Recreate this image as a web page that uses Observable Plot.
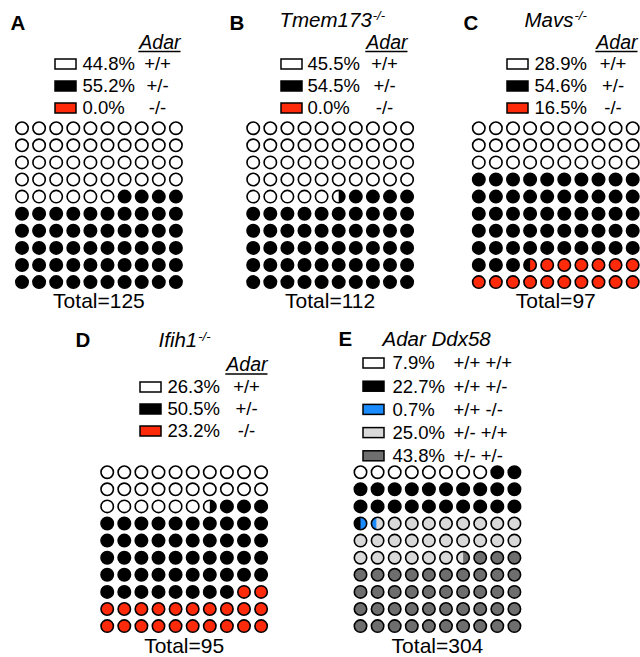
<!DOCTYPE html>
<html><head><meta charset="utf-8">
<script src="https://cdn.jsdelivr.net/npm/d3@7"></script>
<script src="https://cdn.jsdelivr.net/npm/@observablehq/plot@0.6"></script>
<style>body{margin:0;background:#fff} #chart{width:640px;height:657px}</style>
</head><body><div id="chart"></div>
<script>
// ---------------- data ----------------
const panelLetters = ["A", "B", "C", "D", "E"];
const panelGenes = ["", "Tmem173", "Mavs", "Ifih1", "Adar Ddx58"];
const geneSup = ["", "-/-", "-/-", "-/-", ""];
const legendGene = ["Adar", "Adar", "Adar", "Adar", ""];
const totals = [125, 112, 97, 95, 304];

const adarCategories = ["+/+", "+/-", "-/-"];
const adarColors = ["#ffffff", "#000000", "#ff2a0a"];
const pctA = [44.8, 55.2, 0.0];
const pctB = [45.5, 54.5, 0.0];
const pctC = [28.9, 54.6, 16.5];
const pctD = [26.3, 50.5, 23.2];

const ddxCategories = ["+/+ +/+", "+/+ +/-", "+/+ -/-", "+/- +/+", "+/- +/-"];
const ddxColors = ["#ffffff", "#000000", "#1a8cff", "#d9d9d9", "#6e6e6e"];
const pctE = [7.9, 22.7, 0.7, 25.0, 43.8];

// dots (out of 100) filled per category, as drawn in each waffle
const dotsA = [46, 54, 0];
const dotsB = [45.5, 54.5, 0];
const dotsC = [30, 53.5, 16.5];
const dotsD = [26.5, 51.5, 22];
const dotsE = [8, 22.5, 0.9, 25.1, 43.5];

// ---------------- layout (page pixels) ----------------
const layout = [
  {letterX: 10, letterY: 23, geneX: 0, geneY: 19.5, adarRight: 180, adarY: 42, legY: 64, legStep: 22, swX: 55, pctX: 82, genoX: 157, genoAnchor: "middle", gx: 21.5, gy: 127.7, totalY: 301},
  {letterX: 229, letterY: 23, geneX: 279, geneY: 19.5, adarRight: 407, adarY: 42, legY: 64, legStep: 22, swX: 281, pctX: 307, genoX: 384, genoAnchor: "middle", gx: 252.7, gy: 127.7, totalY: 301},
  {letterX: 463, letterY: 23, geneX: 524, geneY: 19.5, adarRight: 637, adarY: 42, legY: 64, legStep: 22, swX: 507, pctX: 534, genoX: 612.5, genoAnchor: "middle", gx: 478.3, gy: 127.7, totalY: 301},
  {letterX: 75, letterY: 340, geneX: 158, geneY: 340, adarRight: 267, adarY: 364.5, legY: 387, legStep: 22, swX: 140, pctX: 167, genoX: 246, genoAnchor: "middle", gx: 106.7, gy: 471.7, totalY: 646},
  {letterX: 338, letterY: 339, geneX: 382, geneY: 339, adarRight: 0, adarY: 0, legY: 363, legStep: 23.2, swX: 363, pctX: 392, genoX: 453, genoAnchor: "start", gx: 360, gy: 471.7, totalY: 646}
];
const S = 17.1, R = 6.2, SW = 1.6;
const FONT = '"Liberation Sans", Arial, Helvetica, sans-serif';
const F_LETTER = 20.5, F_GENE = 20.5, F_SUP = 13, F_ADAR = 19.5, F_LEG = 18.5, F_TOTAL = 21;

const panels = [
  {cats: adarCategories, pct: pctA, dots: dotsA},
  {cats: adarCategories, pct: pctB, dots: dotsB},
  {cats: adarCategories, pct: pctC, dots: dotsC},
  {cats: adarCategories, pct: pctD, dots: dotsD},
  {cats: ddxCategories, pct: pctE, dots: dotsE}
].map((p, k) => ({...p, letter: panelLetters[k], gene: panelGenes[k], sup: geneSup[k], adar: legendGene[k], total: totals[k], L: layout[k]}));

const ctx = document.createElement("canvas").getContext("2d");
function tw(text, font) { ctx.font = font; return ctx.measureText(text).width; }

const letters = [], genes = [], sups = [], adars = [], underlines = [];
const swatches = [], pctTexts = [], genoStart = [], genoMid = [];
const baseDots = [], overlays = [], totalTexts = [];

panels.forEach((p, k) => {
  const L = p.L;
  letters.push({x: L.letterX, y: L.letterY, t: p.letter});
  if (p.gene) {
    genes.push({x: L.geneX, y: L.geneY, t: p.gene});
    if (p.sup) {
      const w = tw(p.gene, `italic ${F_GENE}px ${FONT}`);
      sups.push({x: L.geneX + w + 1, y: L.geneY - 4, t: p.sup});
    }
  }
  if (p.adar) {
    adars.push({x: L.adarRight, y: L.adarY, t: p.adar});
    const w = tw(p.adar, `italic ${F_ADAR}px ${FONT}`);
    const yb = L.adarY + 0.32 * F_ADAR + 2.8;
    underlines.push({x1: L.adarRight - w - 1, x2: L.adarRight, y: yb});
  }
  p.cats.forEach((c, i) => {
    const y = L.legY + i * L.legStep;
    swatches.push({x1: L.swX, x2: L.swX + 21, y1: y - 5, y2: y + 5, cat: c});
    pctTexts.push({x: L.pctX, y, t: p.pct[i].toFixed(1) + "%"});
    (L.genoAnchor === "start" ? genoStart : genoMid).push({x: L.genoX, y, t: c});
  });
  // waffle
  const ranges = []; let acc = 0;
  p.dots.forEach((v, i) => { ranges.push({a: acc, b: acc + v, cat: p.cats[i]}); acc += v; });
  for (let i = 0; i < 100; i++) {
    const cx = L.gx + (i % 10) * S, cy = L.gy + Math.floor(i / 10) * S;
    let parts = ranges.map(r => ({cat: r.cat, lo: Math.max(r.a, i) - i, hi: Math.min(r.b, i + 1) - i}))
      .filter(q => q.hi - q.lo > 1e-6);
    if (!parts.length) parts = [{cat: p.cats[p.cats.length - 1], lo: 0, hi: 1}];
    baseDots.push({x: cx, y: cy, cat: parts[parts.length - 1].cat});
    for (let j = parts.length - 2; j >= 0; j--) {
      const t = parts[j].hi;
      const xc = R * (2 * t - 1);
      const th0 = Math.acos(Math.max(-1, Math.min(1, xc / R)));
      const id = `${k}-${i}-${j}`;
      const n = 40;
      for (let s = 0; s <= n; s++) {
        const th = th0 + (2 * Math.PI - 2 * th0) * s / n;
        overlays.push({id, x: cx + R * Math.cos(th), y: cy + R * Math.sin(th), cat: parts[j].cat});
      }
    }
  }
  totalTexts.push({x: L.gx + 4.5 * S, y: L.totalY, t: `Total=${p.total}`});
});

const plot = Plot.plot({
  width: 640, height: 657, margin: 0,
  x: {domain: [0, 640], range: [0, 640], axis: null},
  y: {domain: [0, 657], range: [0, 657], axis: null},
  color: {domain: [...adarCategories, ...ddxCategories], range: [...adarColors, ...ddxColors]},
  style: {fontFamily: FONT, background: "white", color: "black"},
  marks: [
    Plot.text(letters, {x: "x", y: "y", text: "t", fontSize: F_LETTER, fontWeight: "bold", textAnchor: "start", fill: "black"}),
    Plot.text(genes, {x: "x", y: "y", text: "t", fontSize: F_GENE, fontStyle: "italic", textAnchor: "start", fill: "black"}),
    Plot.text(sups, {x: "x", y: "y", text: "t", fontSize: F_SUP, fontStyle: "italic", textAnchor: "start", fill: "black"}),
    Plot.text(adars, {x: "x", y: "y", text: "t", fontSize: F_ADAR, fontStyle: "italic", textAnchor: "end", fill: "black"}),
    Plot.link(underlines, {x1: "x1", x2: "x2", y1: "y", y2: "y", stroke: "black", strokeWidth: 1.6}),
    Plot.rect(swatches, {x1: "x1", x2: "x2", y1: "y1", y2: "y2", fill: "cat", stroke: "black", strokeWidth: 1.5}),
    Plot.text(pctTexts, {x: "x", y: "y", text: "t", fontSize: F_LEG, textAnchor: "start", fill: "black"}),
    Plot.text(genoMid, {x: "x", y: "y", text: "t", fontSize: F_LEG, textAnchor: "middle", fill: "black"}),
    Plot.text(genoStart, {x: "x", y: "y", text: "t", fontSize: F_LEG, textAnchor: "start", fill: "black"}),
    Plot.dot(baseDots, {x: "x", y: "y", r: R, fill: "cat", stroke: "none"}),
    Plot.line(overlays, {x: "x", y: "y", z: "id", fill: "cat", stroke: "none", curve: "linear-closed"}),
    Plot.dot(baseDots, {x: "x", y: "y", r: R, fill: "none", stroke: "black", strokeWidth: SW}),
    Plot.text(totalTexts, {x: "x", y: "y", text: "t", fontSize: F_TOTAL, textAnchor: "middle", fill: "black"})
  ]
});
document.getElementById("chart").appendChild(plot);
</script>
</body></html>
